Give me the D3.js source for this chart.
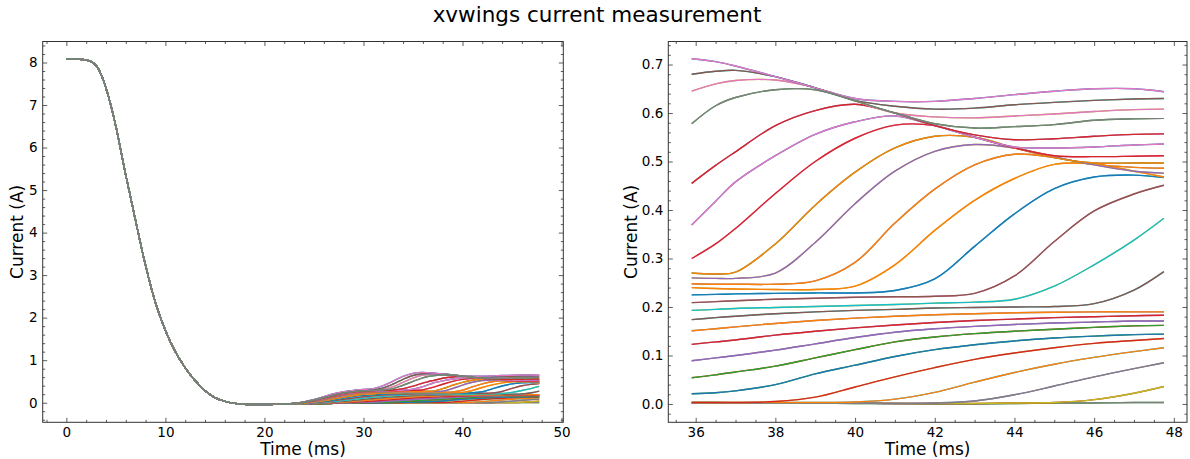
<!DOCTYPE html>
<html><head><meta charset="utf-8">
<script src="https://cdn.jsdelivr.net/npm/d3@7"></script>
<style>
body{margin:0;background:#fff;}
svg{display:block;font-family:"DejaVu Sans",sans-serif;}
</style></head><body>
<svg id="chart" width="1190" height="459"></svg>
<script>
// ---------- DATA ----------
const titleText = "xvwings current measurement";
const xLabel = "Time (ms)";
const yLabel = "Current (A)";

// shared decay portion (all runs identical), ms
const decayTimes = [0,1,2,2.5,3,3.5,4,5,6,7,8,9,10,11,12,13,14,15,16,17,18,19,20,21,22];
const decayValues = [8.08,8.08,8.06,8.02,7.93,7.72,7.40,6.50,5.35,4.27,3.22,2.35,1.70,1.20,0.82,0.52,0.28,0.12,0.03,-0.015,-0.035,-0.042,-0.044,-0.04,-0.032];

// first rise portion, ms
const riseTimes = [23,24,25,26,27,28,29,30,31,32,33,34,35];
// zoomed portion, ms
const rightTimes = [35.9,36.5,37,38,39,40,41,42,43,44,45,46,47,47.75];

const riseA = [-0.02,0.02,0.07,0.14,0.21,0.26,0.29,0.31,0.33,0.40,0.51,0.62,0.69];
const rightA = [0.712,0.706,0.697,0.675,0.652,0.630,0.624,0.624,0.630,0.638,0.645,0.650,0.650,0.644];
const riseB = [-0.02,0.02,0.07,0.13,0.20,0.25,0.28,0.30,0.31,0.35,0.44,0.55,0.64];
const rightB = [0.680,0.686,0.688,0.675,0.652,0.626,0.614,0.608,0.610,0.617,0.622,0.626,0.629,0.630];
const riseC = [-0.02,0.02,0.06,0.13,0.19,0.24,0.27,0.29,0.30,0.32,0.38,0.48,0.58];
const rightC = [0.645,0.660,0.667,0.668,0.652,0.625,0.600,0.592,0.590,0.594,0.598,0.603,0.607,0.608];
const riseD = [-0.02,0.01,0.06,0.12,0.18,0.23,0.26,0.28,0.29,0.30,0.33,0.41,0.50];
const rightD = [0.578,0.615,0.632,0.648,0.648,0.625,0.600,0.578,0.569,0.572,0.576,0.585,0.588,0.589];
const riseE = [-0.02,0.01,0.05,0.11,0.17,0.22,0.25,0.27,0.28,0.29,0.30,0.33,0.39];
const rightE = [0.455,0.492,0.520,0.574,0.605,0.618,0.600,0.574,0.555,0.545,0.547,0.552,0.556,0.557];
const riseF = [-0.02,0.01,0.05,0.10,0.16,0.21,0.24,0.26,0.27,0.28,0.29,0.30,0.32];
const rightF = [0.369,0.418,0.458,0.512,0.556,0.582,0.594,0.574,0.550,0.530,0.528,0.530,0.534,0.536];
const riseG = [-0.02,0.01,0.04,0.09,0.15,0.20,0.23,0.25,0.265,0.275,0.28,0.285,0.29];
const rightG = [0.300,0.330,0.362,0.434,0.500,0.548,0.575,0.574,0.550,0.528,0.512,0.510,0.511,0.512];
const riseH = [-0.02,0.00,0.04,0.08,0.14,0.19,0.22,0.24,0.255,0.262,0.266,0.268,0.27];
const rightH = [0.270,0.268,0.272,0.330,0.410,0.478,0.528,0.552,0.550,0.528,0.508,0.497,0.497,0.497];
const riseI = [-0.02,0.00,0.03,0.07,0.12,0.17,0.21,0.23,0.245,0.252,0.256,0.258,0.26];
const rightI = [0.260,0.259,0.259,0.270,0.333,0.413,0.480,0.521,0.535,0.528,0.510,0.493,0.480,0.476];
const riseJ = [-0.02,0.00,0.03,0.06,0.11,0.15,0.19,0.21,0.225,0.235,0.242,0.246,0.248];
const rightJ = [0.248,0.247,0.247,0.247,0.254,0.292,0.373,0.443,0.493,0.515,0.508,0.494,0.488,0.486];
const riseK = [-0.02,-0.01,0.02,0.05,0.09,0.13,0.17,0.195,0.212,0.224,0.232,0.237,0.24];
const rightK = [0.240,0.238,0.237,0.236,0.236,0.243,0.287,0.358,0.420,0.465,0.494,0.495,0.480,0.468];
const riseL = [-0.02,-0.01,0.01,0.04,0.07,0.11,0.145,0.172,0.192,0.205,0.214,0.22,0.224];
const rightL = [0.225,0.226,0.227,0.228,0.229,0.229,0.234,0.258,0.325,0.392,0.444,0.468,0.472,0.467];
const riseM = [-0.025,-0.015,0.00,0.02,0.05,0.08,0.11,0.14,0.163,0.18,0.193,0.201,0.206];
const rightM = [0.209,0.211,0.213,0.216,0.218,0.220,0.221,0.222,0.228,0.264,0.335,0.398,0.433,0.451];
const riseN = [-0.025,-0.015,-0.005,0.01,0.03,0.055,0.08,0.107,0.132,0.153,0.169,0.181,0.189];
const rightN = [0.193,0.195,0.197,0.199,0.201,0.203,0.205,0.208,0.210,0.216,0.243,0.287,0.338,0.383];
const riseO = [-0.025,-0.02,-0.01,0.00,0.015,0.035,0.055,0.078,0.10,0.12,0.138,0.153,0.166];
const rightO = [0.174,0.178,0.181,0.186,0.190,0.193,0.195,0.198,0.199,0.200,0.201,0.207,0.235,0.273];
const riseP = [-0.025,-0.02,-0.012,-0.005,0.005,0.018,0.033,0.05,0.068,0.087,0.106,0.124,0.141];
const rightP = [0.151,0.155,0.159,0.166,0.172,0.177,0.181,0.184,0.186,0.188,0.189,0.190,0.190,0.190];
const riseQ = [-0.025,-0.02,-0.015,-0.01,-0.004,0.004,0.014,0.026,0.04,0.056,0.074,0.093,0.111];
const rightQ = [0.123,0.128,0.132,0.142,0.150,0.157,0.163,0.168,0.172,0.175,0.178,0.180,0.182,0.183];
const riseR = [-0.025,-0.022,-0.018,-0.014,-0.01,-0.005,0.001,0.008,0.017,0.028,0.042,0.058,0.075];
const rightR = [0.089,0.095,0.100,0.111,0.124,0.137,0.148,0.155,0.160,0.164,0.167,0.169,0.171,0.171];
const riseS = [-0.025,-0.022,-0.02,-0.017,-0.014,-0.011,-0.007,-0.003,0.002,0.009,0.018,0.03,0.044];
const rightS = [0.054,0.060,0.066,0.078,0.095,0.112,0.128,0.138,0.145,0.150,0.154,0.158,0.161,0.162];
const riseT = [-0.025,-0.023,-0.021,-0.019,-0.017,-0.015,-0.012,-0.009,-0.006,-0.002,0.003,0.009,0.016];
const rightT = [0.021,0.023,0.027,0.040,0.062,0.080,0.098,0.112,0.122,0.130,0.136,0.140,0.143,0.144];
const riseU = [-0.025,-0.023,-0.021,-0.019,-0.017,-0.015,-0.012,-0.01,-0.007,-0.004,-0.002,0.0,0.002];
const rightU1 = [0.003,0.003,0.003,0.005,0.014,0.035,0.056,0.075,0.092,0.105,0.116,0.125,0.131,0.135];
const rightU2 = [0.003,0.003,0.003,0.003,0.003,0.004,0.010,0.024,0.045,0.065,0.082,0.096,0.108,0.116];
const rightU3 = [0.002,0.002,0.002,0.002,0.002,0.002,0.001,0.002,0.006,0.019,0.037,0.056,0.073,0.085];
const rightU4 = [0.002,0.002,0.002,0.002,0.002,0.002,0.001,0.001,0.001,0.002,0.003,0.009,0.022,0.036];
const rightU5 = [0.003,0.003,0.002,0.002,0.002,0.001,0.001,0.000,0.000,0.001,0.002,0.002,0.003,0.003];

const groupRise = [riseU,riseU,riseU,riseU,riseU,riseT,riseS,riseR,riseQ,riseP,riseO,riseN,riseM,riseL,riseK,riseJ,riseI,riseH,riseG,riseF,riseE,riseC,riseB,riseA,riseD];
const groupRight = [rightU5,rightU4,rightU3,rightU2,rightU1,rightT,rightS,rightR,rightQ,rightP,rightO,rightN,rightM,rightL,rightK,rightJ,rightI,rightH,rightG,rightF,rightE,rightC,rightB,rightA,rightD];

const leftXTicks = [0,10,20,30,40,50];
const leftYTicks = [0,1,2,3,4,5,6,7,8];
const rightXTicks = [36,38,40,42,44,46,48];
const rightYTicks = [0,0.1,0.2,0.3,0.4,0.5,0.6,0.7];

// ---------- STYLE ----------
const C = {blue:"#1f77b4",orange:"#ff7f0e",green:"#2ca02c",red:"#d62728",purple:"#9467bd",
           brown:"#8c564b",pink:"#e377c2",grey:"#7f7f7f",olive:"#bcbd22",cyan:"#17becf"};
const groupColors = [
  [C.green,C.grey],[C.red,C.olive],[C.purple,C.grey],[C.cyan,C.orange],[C.olive,C.red],
  [C.green,C.blue],[C.red,C.green],[C.grey,C.purple],[C.purple,C.red],[C.grey,C.orange],
  [C.cyan,C.brown],[C.olive,C.cyan],[C.pink,C.brown],[C.cyan,C.blue],[C.olive,C.orange],
  [C.grey,C.orange],[C.olive,C.purple],[C.green,C.orange],[C.pink,C.red],[C.blue,C.pink],
  [C.purple,C.red],[C.olive,C.pink],[C.cyan,C.brown],[C.blue,C.pink],[C.green,C.grey]
];

const svg = d3.select("#chart");

svg.append("text").attr("x", 597).attr("y", 22).attr("text-anchor","middle")
  .attr("font-size", 21.5).attr("fill","#000").text(titleText);

function panel(opts){
  const g = svg.append("g");
  const x = d3.scaleLinear().domain(opts.xDomain).range([opts.left, opts.right]);
  const y = d3.scaleLinear().domain(opts.yDomain).range([opts.bottom, opts.top]);
  const clipId = "clip" + opts.id;
  svg.append("clipPath").attr("id", clipId).append("rect")
    .attr("x", opts.left).attr("y", opts.top)
    .attr("width", opts.right-opts.left).attr("height", opts.bottom-opts.top);

  const line = d3.line().x(d=>x(d[0])).y(d=>y(d[1])).curve(d3.curveCatmullRom.alpha(0.5));
  const lg = g.append("g").attr("clip-path", `url(#${clipId})`);
  groupRight.forEach((rv, gi) => {
    let pts;
    if (opts.full) {
      pts = decayTimes.map((t,i)=>[t, decayValues[i]])
        .concat(riseTimes.map((t,i)=>[t, groupRise[gi][i]]))
        .concat(rightTimes.map((t,i)=>[t, rv[i]]));
    } else {
      pts = rightTimes.map((t,i)=>[t, rv[i]]);
    }
    groupColors[gi].forEach(col => {
      lg.append("path").datum(pts).attr("d", line)
        .attr("fill","none").attr("stroke", col).attr("stroke-width", 1.4)
        .attr("stroke-linejoin","round");
    });
  });

  const tickCol = "#333";
  function styleAxis(sel){
    sel.attr("font-size", null).attr("font-family", null);
    sel.select(".domain").remove();
    sel.selectAll("line").attr("stroke", tickCol).attr("stroke-width", 0.8);
    sel.selectAll("text").style("font-family","DejaVu Sans").style("font-size", "13.5px").attr("fill","#000");
  }
  const maj = 4.5, mnr = 2.5;
  g.append("g").attr("transform",`translate(0,${opts.bottom})`)
    .call(d3.axisBottom(x).tickValues(opts.xTicks).tickFormat(opts.xFmt).tickSizeInner(-maj).tickSizeOuter(0).tickPadding(5))
    .call(styleAxis);
  g.append("g").attr("transform",`translate(0,${opts.bottom})`)
    .call(d3.axisBottom(x).tickValues(opts.xMinor).tickFormat("").tickSizeInner(-mnr).tickSizeOuter(0))
    .call(styleAxis);
  g.append("g").attr("transform",`translate(0,${opts.top})`)
    .call(d3.axisTop(x).tickValues(opts.xTicks).tickFormat("").tickSizeInner(-maj).tickSizeOuter(0))
    .call(styleAxis);
  g.append("g").attr("transform",`translate(0,${opts.top})`)
    .call(d3.axisTop(x).tickValues(opts.xMinor).tickFormat("").tickSizeInner(-mnr).tickSizeOuter(0))
    .call(styleAxis);
  g.append("g").attr("transform",`translate(${opts.left},0)`)
    .call(d3.axisLeft(y).tickValues(opts.yTicks).tickFormat(opts.yFmt).tickSizeInner(-maj).tickSizeOuter(0).tickPadding(5))
    .call(styleAxis);
  g.append("g").attr("transform",`translate(${opts.left},0)`)
    .call(d3.axisLeft(y).tickValues(opts.yMinor).tickFormat("").tickSizeInner(-mnr).tickSizeOuter(0))
    .call(styleAxis);
  g.append("g").attr("transform",`translate(${opts.right},0)`)
    .call(d3.axisRight(y).tickValues(opts.yTicks).tickFormat("").tickSizeInner(-maj).tickSizeOuter(0))
    .call(styleAxis);
  g.append("g").attr("transform",`translate(${opts.right},0)`)
    .call(d3.axisRight(y).tickValues(opts.yMinor).tickFormat("").tickSizeInner(-mnr).tickSizeOuter(0))
    .call(styleAxis);

  g.append("rect").attr("x", opts.left).attr("y", opts.top)
    .attr("width", opts.right-opts.left).attr("height", opts.bottom-opts.top)
    .attr("fill","none").attr("stroke", tickCol).attr("stroke-width", 1);

  g.append("text").attr("x", (opts.left+opts.right)/2).attr("y", 455)
    .attr("text-anchor","middle").attr("font-size",17).text(xLabel);
  g.append("text").attr("transform",`translate(${opts.ylabX},${(opts.top+opts.bottom)/2}) rotate(-90)`)
    .attr("text-anchor","middle").attr("font-size",17).text(yLabel);
}

function range(a,b,s){ const r=[]; for(let v=a; v<=b+1e-9; v+=s) r.push(+v.toFixed(4)); return r; }

panel({id:"L", left:42.7, right:563.3, top:41.5, bottom:422.3,
  xDomain:[-2.39,50.18], yDomain:[-0.461,8.494],
  xTicks:leftXTicks, xMinor:range(-2,50,2).filter(v=>v%10!==0),
  yTicks:leftYTicks, yMinor:range(-0.4,8.4,0.2).filter(v=>Math.abs(v-Math.round(v))>1e-6),
  xFmt:d3.format("d"), yFmt:d3.format("d"), full:true, ylabX:23});

panel({id:"R", left:668.3, right:1187, top:41.5, bottom:422.3,
  xDomain:[35.313,48.33], yDomain:[-0.0378,0.7475],
  xTicks:rightXTicks, xMinor:range(35.5,48,0.5).filter(v=>v%2!==0),
  yTicks:rightYTicks, yMinor:range(-0.02,0.74,0.02).filter(v=>Math.abs(v*10-Math.round(v*10))>1e-6),
  xFmt:d3.format("d"), yFmt:d3.format(".1f"), full:false, ylabX:637});
</script>
</body></html>
